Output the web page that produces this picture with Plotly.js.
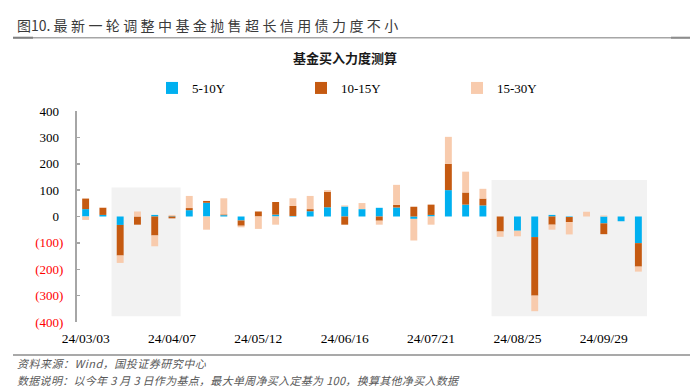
<!DOCTYPE html>
<html>
<head>
<meta charset="utf-8">
<script src="https://cdn.plot.ly/plotly-3.0.1.min.js"></script>
<style>html,body{margin:0;padding:0;background:#fff;}#chart{width:696px;height:387px;}</style>
</head>
<body>
<div id="chart"></div>
<script>
// ---------- data ----------
var weeks = ['24/03/03','24/03/10','24/03/17','24/03/24','24/03/31','24/04/07','24/04/14','24/04/21','24/04/28',
  '24/05/05','24/05/12','24/05/19','24/05/26','24/06/02','24/06/09','24/06/16','24/06/23','24/06/30','24/07/07',
  '24/07/14','24/07/21','24/07/28','24/08/04','24/08/11','24/08/18','24/08/25','24/09/01','24/09/08','24/09/15',
  '24/09/22','24/09/29','24/10/06','24/10/13'];
var y5to10  = [28, 6, -32, 0, 6, 2, 24, 52, 5, -15, 0, 7, 2, 20, 35, 38, 28, 33, 34, -9, 6, 100, 45, 42, 0, -54, -78, 6, -2, 0, -26, -18, -101];
var y10to15 = [40, 27, -116, -31, -72, -7, 8, 7, 3, -20, 19, 48, 38, 8, 59, -31, 0, -16, 10, 37, 39, 100, 46, 26, -57, 0, -222, -31, -19, 0, -41, 0, -89];
var y15to30 = [-13, 2, -28, 19, -41, 4, 46, -50, 61, -6, -47, -31, 29, 50, 6, 4, 23, -15, 76, -82, -31, 102, 79, 37, -20, -21, -59, -19, -47, 18, 4, 0, -19];
var seriesNames = ['5-10Y', '10-15Y', '15-30Y'];
var tickDates = ['24/03/03','24/04/07','24/05/12','24/06/16','24/07/21','24/08/25','24/09/29'];
var yTicks = [400, 300, 200, 100, 0, -100, -200, -300, -400];
// shaded periods
var shadeFrom = ['24/03/17', '24/08/18'];
var shadeTo   = ['24/04/07', '24/10/13'];
var shadeTop  = [110, 138];
var shadeBottom = [-378, -378];

// ---------- layout helpers ----------
var W = 696, H = 387, ML = 77, MR = 49, MT = 111, MB = 65;
var PW = W - ML - MR, PH = H - MT - MB;
function fx(px){ return (px - ML) / PW; }
function fy(py){ return (H - MB - py) / PH; }

var colors = ['#00b0f0', '#c55a11', '#f8cbad'];
var serif = 'Liberation Serif, Times New Roman, serif';
var cjk = 'Noto Sans CJK SC, sans-serif';

var vals = [y5to10, y10to15, y15to30];
var legendIds = ['legend', 'legend2', 'legend3'];
var traces = vals.map(function(v, i){
  return {type:'bar', x: weeks, y: v, name: seriesNames[i], marker:{color: colors[i]},
          legend: legendIds[i], hoverinfo:'skip'};
});

var tickText = yTicks.map(function(t){
  if (t < 0) return '<span style="color:#ff0000">(' + Math.abs(t) + ')</span>';
  return t + '<span style="color:rgba(0,0,0,0)">)</span>';
});

var shapes = [];
for (var s = 0; s < shadeFrom.length; s++) {
  shapes.push({type:'rect', xref:'x', yref:'y', layer:'below',
    x0: weeks.indexOf(shadeFrom[s]) - 0.5, x1: weeks.indexOf(shadeTo[s]) + 0.5,
    y0: shadeBottom[s], y1: shadeTop[s], fillcolor:'#f2f2f2', line:{width:0}});
}
// header & footer rules
shapes.push({type:'line', xref:'paper', yref:'paper', x0:fx(13), x1:fx(690), y0:fy(37.7), y1:fy(37.7), line:{color:'#a6a6a6', width:1.5}});
shapes.push({type:'line', xref:'paper', yref:'paper', x0:fx(13), x1:fx(33), y0:fy(37.7), y1:fy(37.7), line:{color:'#7f7f7f', width:2}});
shapes.push({type:'line', xref:'paper', yref:'paper', x0:fx(671), x1:fx(690), y0:fy(37.7), y1:fy(37.7), line:{color:'#8c8c8c', width:2}});
shapes.push({type:'line', xref:'paper', yref:'paper', x0:fx(13), x1:fx(690), y0:fy(355), y1:fy(355), line:{color:'#8c8c8c', width:1.5}});

var legendTextX = [192, 341, 497];
function legendAt(i){
  return {orientation:'h', x: fx(legendTextX[i] - 40), xanchor:'left', y: fy(88), yanchor:'middle',
          font:{family: serif, size:13, color:'#000'}, bgcolor:'rgba(0,0,0,0)', borderwidth:0};
}

var layout = {
  width: W, height: H,
  margin:{l:ML, r:MR, t:MT, b:MB, pad:0},
  paper_bgcolor:'#fff', plot_bgcolor:'rgba(0,0,0,0)',
  barmode:'relative', bargap:0.6,
  showlegend:true,
  legend: legendAt(0), legend2: legendAt(1), legend3: legendAt(2),
  title:{text:'<b>基金买入力度测算</b>', x: 345/W, xanchor:'center', y: 1 - 58/H, yanchor:'middle',
         font:{family: cjk, size:13, color:'#1a1a1a'}},
  xaxis:{type:'category', range:[-0.5, weeks.length - 0.5], tickmode:'array', tickvals: tickDates, ticktext: tickDates,
         showline:false, showgrid:false, zeroline:false, ticks:'', ticklabelstandoff:6,
         tickfont:{family: serif, size:13.5, color:'#000'}},
  xaxis2:{overlaying:'x', anchor:'free', position:0.5, type:'linear', range:[-0.5, weeks.length - 0.5],
          tickmode:'linear', tick0:-0.5, dtick:1, ticks:'inside', ticklen:4, tickwidth:1.5, tickcolor:'#a6a6a6',
          showticklabels:false, showgrid:false, zeroline:false, showline:true, linecolor:'#a6a6a6', linewidth:2},
  yaxis:{range:[-400, 400], tickmode:'array', tickvals: yTicks, ticktext: tickText,
         showline:true, linecolor:'#a6a6a6', linewidth:2, ticks:'inside', ticklen:3, tickwidth:1.5, tickcolor:'#a6a6a6',
         showgrid:false, zeroline:false, ticklabelstandoff:9,
         tickfont:{family: serif, size:13, color:'#000'}},
  shapes: shapes,
  annotations:[
    {xref:'paper', yref:'paper', x: fx(15), y: fy(25), xanchor:'left', yanchor:'middle', showarrow:false,
     text:'图10. <span style="letter-spacing:3.4px">最新一轮调整中基金抛售超长信用债力度不小</span>',
     font:{family: cjk, size:14, color:'#3a3a3a'}},
    {xref:'paper', yref:'paper', x: fx(15), y: fy(363), xanchor:'left', yanchor:'middle', showarrow:false,
     text:'<i><span style="letter-spacing:0.5px">资料来源：Wind，国投证券研究中心</span></i>',
     font:{family: cjk, size:11, color:'#595959'}},
    {xref:'paper', yref:'paper', x: fx(15), y: fy(380), xanchor:'left', yanchor:'middle', showarrow:false,
     text:'<i><span style="letter-spacing:0.3px">数据说明：以今年 3 月 3 日作为基点，最大单周净买入定基为 100，换算其他净买入数据</span></i>',
     font:{family: cjk, size:11, color:'#595959'}}
  ]
};

Plotly.newPlot('chart', traces, layout, {staticPlot:true, displayModeBar:false});
</script>
</body>
</html>
